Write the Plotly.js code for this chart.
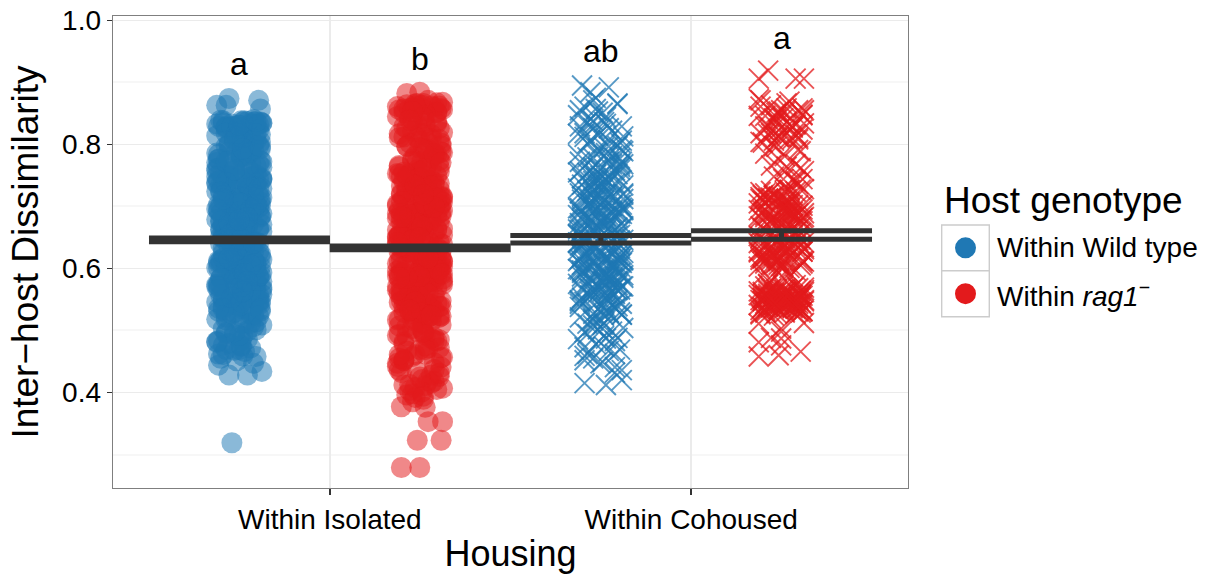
<!DOCTYPE html>
<html>
<head>
<meta charset="utf-8">
<script src="https://cdn.plot.ly/plotly-3.0.1.min.js"></script>
<style>
  html, body { margin: 0; padding: 0; background: #ffffff; }
  #chart { width: 1215px; height: 575px; }
</style>
</head>
<body>
<div id="chart"></div>
<script>
// Housing categories on the x axis and host genotype groups
const housing = ['Within Isolated', 'Within Cohoused'];
const genotypes = ['Within Wild type', 'Within <i>rag1</i><sup>\u2212</sup>'];

// Inter-host dissimilarity values, one array per housing x genotype group
const wtIsolated = [
  .652,.711,.583,.804,.497,.628,.739,.561,.690,.822,.614,.476,.668,.757,.539,.703,.641,.788,.592,.524,
  .677,.813,.605,.548,.726,.659,.833,.571,.694,.511,.746,.633,.782,.589,.718,.462,.664,.799,.553,.621,
  .735,.598,.687,.816,.529,.648,.771,.607,.697,.838,.566,.742,.486,.679,.613,.762,.544,.706,.827,.636,
  .574,.724,.655,.793,.517,.683,.601,.751,.628,.809,.558,.669,.731,.493,.644,.776,.587,.712,.535,.821,
  .662,.748,.596,.701,.469,.639,.786,.577,.728,.618,.835,.551,.673,.765,.506,.692,.627,.801,.569,.716,
  .609,.756,.541,.684,.829,.623,.737,.582,.667,.484,.714,.651,.795,.563,.699,.531,.744,.616,.818,.594,
  .689,.527,.661,.774,.603,.722,.546,.806,.637,.753,.579,.675,.499,.733,.626,.784,.556,.709,.645,.831,
  .584,.719,.673,.543,.797,.631,.761,.514,.682,.599,.743,.657,.826,.568,.695,.612,.769,.479,.706,.648,
  .725,.562,.812,.619,.686,.537,.758,.643,.591,.779,.671,.503,.727,.606,.836,.576,.698,.634,.789,.554,
  .663,.741,.589,.707,.522,.654,.814,.597,.736,.625,.772,.548,.691,.611,.802,.572,.718,.658,.491,.749,
  .455,.472,.451,.857,.863,.466,.863,.458,.319,.474,.434,.461,.428,.468,.447,.444,.871,.874,.459,.469,
  .839,.833,.826,.836,.828,.838,.482,.831,.833,.825,.834,.835,.837,.829,.840,.829,.832,.428,.836,.827,
  .701,.566,.788,.624,.735,.512,.679,.817,.593,.652,.744,.538,.708,.627,.792,.484,.663,.755,.579,.691,
  .613,.769,.547,.683,.826,.598,.724,.501,.646,.781,.569,.717,.633,.808,.524,.695,.587,.749,.657,.539,
  .754,.592,.698,.531,.661,.803,.574,.737,.614,.476,.729,.648,.785,.557,.672,.609,.823,.545,.714,.638,
  .584,.731,.622,.796,.553,.687,.518,.765,.641,.705,.593,.838,.666,.529,.747,.601,.688,.774,.562,.492,
  .676,.512,.745,.603,.818,.636,.571,.702,.527,.783,.659,.617,.736,.498,.694,.776,.548,.653,.811,.585,
  .639,.787,.577,.712,.495,.668,.748,.607,.829,.546,.688,.625,.761,.583,.719,.536,.798,.646,.563,.706,
  .557,.694,.818,.589,.739,.628,.481,.703,.658,.571,.763,.535,.682,.806,.612,.741,.523,.674,.598,.831,
  .723,.605,.664,.534,.772,.592,.696,.837,.553,.647,.509,.712,.579,.759,.641,.566,.728,.616,.793,.678
];
const ragIsolated = [
  .641,.778,.552,.703,.467,.619,.845,.586,.731,.502,.664,.812,.573,.689,.448,.627,.756,.531,.694,.598,
  .719,.487,.656,.798,.541,.673,.608,.852,.516,.742,.579,.633,.769,.461,.701,.589,.826,.557,.648,.735,
  .562,.688,.831,.603,.749,.475,.638,.784,.527,.667,.714,.451,.592,.858,.621,.545,.763,.683,.509,.806,
  .675,.536,.727,.614,.491,.792,.649,.568,.839,.707,.583,.659,.521,.746,.604,.817,.472,.698,.631,.757,
  .594,.816,.663,.456,.722,.547,.681,.605,.773,.512,.639,.851,.577,.709,.484,.652,.737,.563,.794,.617,
  .708,.579,.759,.523,.644,.834,.596,.686,.458,.728,.611,.549,.803,.667,.533,.752,.601,.843,.496,.672,
  .548,.697,.625,.788,.506,.739,.571,.662,.821,.589,.716,.478,.635,.781,.556,.694,.524,.753,.612,.469,
  .733,.602,.811,.539,.677,.462,.753,.618,.567,.848,.693,.529,.742,.585,.658,.494,.774,.626,.708,.557,
  .615,.764,.498,.684,.576,.829,.651,.544,.718,.606,.787,.453,.669,.593,.735,.518,.642,.802,.574,.691,
  .659,.515,.744,.629,.797,.561,.704,.483,.676,.615,.856,.538,.723,.652,.489,.766,.597,.681,.532,.818,
  .432,.415,.323,.323,.882,.376,.442,.405,.398,.421,.407,.412,.353,.392,.418,.436,.426,.403,.389,.884,
  .377,.862,.866,.858,.864,.855,.861,.867,.859,.863,.353,.857,.871,.865,.860,.856,.862,.858,.866,.279,
  .279,.428,.433,.441,.396,.411,.447,.851,.385,.401,.868,.452,.419,.408,.437,.455,.431,.413,.394,.425,
  .689,.542,.773,.618,.727,.493,.662,.834,.581,.706,.457,.645,.792,.566,.739,.612,.521,.684,.817,.598,
  .571,.742,.629,.509,.696,.847,.588,.664,.531,.758,.603,.712,.472,.651,.783,.559,.697,.626,.843,.544,
  .721,.596,.668,.802,.553,.637,.517,.749,.611,.692,.574,.829,.539,.678,.613,.764,.485,.656,.731,.583,
  .633,.809,.561,.715,.604,.469,.688,.597,.776,.528,.654,.741,.587,.862,.623,.507,.712,.556,.661,.794,
  .557,.679,.744,.592,.826,.526,.701,.634,.549,.772,.612,.481,.725,.666,.578,.811,.539,.687,.601,.746,
  .748,.614,.536,.691,.658,.761,.492,.629,.853,.571,.707,.594,.643,.518,.785,.653,.727,.567,.498,.672,
  .602,.733,.673,.548,.797,.617,.565,.713,.646,.529,.819,.682,.559,.734,.601,.461,.675,.839,.622,.587,
  .683,.524,.624,.771,.585,.704,.642,.837,.503,.668,.591,.755,.617,.546,.699,.585,.808,.533,.719,.649
];
const wtCohoused = [
  .652,.781,.534,.703,.462,.618,.847,.579,.726,.503,.668,.812,.587,.694,.441,.637,.759,.556,.709,.601,
  .735,.498,.661,.829,.571,.684,.612,.866,.527,.748,.589,.643,.772,.478,.716,.598,.803,.562,.657,.738,
  .566,.692,.853,.609,.754,.487,.641,.797,.519,.673,.721,.452,.604,.875,.626,.549,.768,.681,.512,.819,
  .679,.541,.731,.622,.494,.786,.655,.573,.838,.706,.585,.663,.528,.751,.607,.829,.469,.699,.634,.762,
  .597,.822,.667,.436,.725,.552,.686,.614,.778,.509,.646,.861,.581,.712,.483,.655,.741,.567,.795,.624,
  .711,.583,.763,.525,.648,.844,.599,.689,.455,.731,.613,.546,.807,.671,.536,.757,.603,.884,.491,.675,
  .553,.701,.628,.791,.511,.743,.575,.666,.826,.592,.719,.473,.638,.785,.559,.697,.529,.758,.615,.447,
  .895,.606,.815,.420,.681,.412,.755,.621,.566,.851,.696,.415,.892,.588,.662,.543,.777,.631,.711,.533,
  .619,.768,.502,.688,.578,.833,.654,.548,.722,.609,.789,.459,.672,.596,.737,.521,.645,.806,.577,.693,
  .684,.559,.742,.617,.802,.537,.663,.488,.713,.596,.768,.641,.529,.857,.603,.692,.566,.734,.474,.651,
  .587,.716,.634,.543,.779,.661,.817,.594,.508,.727,.625,.686,.558,.746,.432,.673,.612,.841,.579,.702,
  .745,.623,.572,.698,.648,.531,.729,.865,.611,.563,.694,.818,.467,.659,.586,.772,.637,.704,.544,.628,
  .606,.658,.793,.571,.716,.592,.642,.539,.763,.678,.504,.621,.739,.686,.569,.615,.702,.556,.836,.644,
  .662,.574,.728,.806,.619,.553,.697,.642,.871,.585,.734,.497,.676,.611,.758,.538,.689,.627,.781,.566,
  .716,.603,.547,.664,.835,.588,.629,.752,.516,.693,.571,.648,.797,.607,.462,.721,.654,.584,.739,.675,
  .593,.748,.681,.526,.703,.617,.784,.565,.658,.449,.712,.596,.826,.633,.685,.547,.764,.602,.668,.718,
  .639,.687,.561,.772,.602,.719,.486,.653,.741,.578,.813,.626,.567,.695,.639,.855,.592,.706,.524,.749
];
const ragCohoused = [
  .547,.683,.812,.556,.641,.538,.873,.702,.621,.559,.834,.612,.694,.548,.768,.533,.647,.818,.566,.709,
  .629,.541,.716,.848,.552,.677,.603,.791,.537,.656,.562,.829,.689,.528,.741,.618,.554,.863,.636,.698,
  .803,.568,.645,.531,.712,.592,.846,.551,.681,.624,.757,.543,.869,.609,.535,.723,.557,.654,.781,.498,
  .552,.691,.614,.824,.545,.667,.511,.736,.558,.842,.631,.529,.707,.596,.816,.549,.677,.488,.639,.855,
  .718,.536,.853,.627,.564,.695,.541,.808,.648,.572,.728,.555,.619,.839,.684,.526,.762,.606,.546,.671,
  .589,.827,.543,.701,.632,.866,.557,.653,.524,.744,.611,.686,.548,.796,.573,.715,.638,.537,.852,.476,
  .665,.553,.776,.608,.539,.858,.481,.689,.561,.823,.642,.532,.703,.617,.551,.871,.657,.581,.731,.544,
  .616,.742,.534,.681,.919,.549,.906,.811,.626,.542,.906,.694,.558,.836,.906,.651,.466,.567,.724,.604,
  .537,.664,.460,.847,.574,.709,.458,.559,.693,.633,.512,.785,.546,.672,.597,.861,.529,.714,.638,.552,
  .641,.548,.813,.695,.559,.712,.626,.531,.842,.604,.683,.557,.727,.638,.546,.804,.667,.552,.701,.619,
  .553,.829,.612,.541,.686,.764,.563,.645,.718,.535,.855,.608,.692,.554,.637,.528,.789,.673,.561,.716,
  .709,.538,.647,.858,.575,.628,.694,.543,.806,.661,.549,.721,.601,.566,.832,.682,.545,.624,.756,.503,
  .562,.687,.534,.627,.817,.559,.705,.651,.541,.697,.569,.846,.636,.678,.527,.614,.564,.725,.688,.812,
  .548,.671,.823,.612,.556,.704,.641,.537,.797,.566,.689,.619,.544,.851,.632,.712,.558,.678,.529,.637,
  .693,.557,.606,.744,.539,.836,.652,.568,.717,.601,.547,.683,.809,.562,.724,.649,.534,.766,.611,.556,
  .621,.809,.549,.676,.713,.563,.628,.855,.542,.698,.634,.571,.726,.536,.659,.818,.605,.551,.692,.487,
  .558,.702,.637,.531,.829,.615,.684,.549,.748,.653,.565,.706,.592,.844,.541,.668,.727,.613,.553,.674
];

// Group mean and standard error (wild type isolated, rag1 isolated, wild type cohoused, rag1 cohoused)
const groupMean = [0.646, 0.633, 0.647, 0.654];
const groupSE = [0.003, 0.003, 0.006, 0.0068];

// Significance letters and their heights
const letters = ['a', 'b', 'ab', 'a'];
const letterY = [0.909, 0.917, 0.929, 0.951];

// Horizontal jitter offsets (axis units), cycled across the points of a group
const jitter = [-.052, .031, -.008, .058, -.037, .014, -.063, .046, -.021, .005,
                 .062, -.045, .022, -.014, .039, -.058, .053, -.029, .009, -.001];

const BLUE = '#1f78b4';
const RED = '#e31a1c';
const FONT = 'Liberation Sans, Arial, Helvetica, sans-serif';
const DODGE = 0.25;

// centre of each group: housing position +/- dodge
const groupX = [1 - DODGE, 1 + DODGE, 2 - DODGE, 2 + DODGE];

function jitterX(values, centre) {
  return values.map((v, i) => centre + jitter[i % jitter.length]);
}

function circles(values, centre, color) {
  return {
    type: 'scatter', mode: 'markers',
    x: jitterX(values, centre), y: values,
    marker: { symbol: 'circle', size: 21, color: color, opacity: 0.52, line: { width: 0 } },
    hoverinfo: 'y', showlegend: false
  };
}

function crosses(values, centre, color) {
  return {
    type: 'scatter', mode: 'markers',
    x: jitterX(values, centre), y: values,
    marker: { symbol: 'x-thin', size: 20, color: color, opacity: 0.75,
              line: { width: 1.9, color: color } },
    hoverinfo: 'y', showlegend: false
  };
}

const traces = [
  circles(wtIsolated, groupX[0], BLUE),
  circles(ragIsolated, groupX[1], RED),
  crosses(wtCohoused, groupX[2], BLUE),
  crosses(ragCohoused, groupX[3], RED),
  {
    type: 'scatter', mode: 'markers',
    x: groupX, y: groupMean,
    marker: { size: 1, color: 'rgba(0,0,0,0)' },
    error_y: { type: 'data', array: groupSE, visible: true,
               color: '#333333', thickness: 5, width: 90.5 },
    hoverinfo: 'y', showlegend: false
  }
];

// plot area in pixels, used to place the hand-built legend
const M = { l: 113, r: 307, t: 16, b: 87 };
const W = 1215, H = 575;
const PW = W - M.l - M.r, PH = H - M.t - M.b;
const px = x => (x - M.l) / PW;
const py = y => (H - M.b - y) / PH;

const annotations = letters.map((t, i) => ({
  x: groupX[i], y: letterY[i], xref: 'x', yref: 'y',
  text: t, showarrow: false, xanchor: 'center', yanchor: 'bottom', yshift: -7,
  font: { family: FONT, size: 32, color: '#000000' }
}));

annotations.push({
  x: px(942), y: py(201), xref: 'paper', yref: 'paper',
  text: 'Host genotype', showarrow: false, xanchor: 'left', yanchor: 'middle',
  font: { family: FONT, size: 37, color: '#000000' }
});

const keyColors = [BLUE, RED];
const keyTop = [225, 270.7], keyBottom = [270.7, 316.7];
const shapes = [];
genotypes.forEach((g, i) => {
  shapes.push({
    type: 'rect', xref: 'paper', yref: 'paper',
    x0: px(941.7), x1: px(989.3), y0: py(keyBottom[i]), y1: py(keyTop[i]),
    line: { color: '#cccccc', width: 1.4 }, fillcolor: '#ffffff'
  });
  const cy = (keyTop[i] + keyBottom[i]) / 2;
  shapes.push({
    type: 'circle', xref: 'paper', yref: 'paper',
    xsizemode: 'pixel', ysizemode: 'pixel',
    xanchor: px(965.5), yanchor: py(cy),
    x0: -10.5, x1: 10.5, y0: -10.5, y1: 10.5,
    line: { width: 0 }, fillcolor: keyColors[i]
  });
  annotations.push({
    x: px(995), y: py(cy), xref: 'paper', yref: 'paper',
    text: g, showarrow: false, xanchor: 'left', yanchor: 'middle',
    font: { family: FONT, size: 28, color: '#000000' }
  });
});

const layout = {
  width: W, height: H,
  margin: M,
  paper_bgcolor: '#ffffff', plot_bgcolor: '#ffffff',
  font: { family: FONT, color: '#000000' },
  showlegend: false,
  xaxis: {
    range: [0.4, 2.6],
    tickmode: 'array', tickvals: [1, 2], ticktext: housing,
    showgrid: true, gridcolor: '#ebebeb', gridwidth: 1.4,
    zeroline: false,
    ticks: 'outside', ticklen: 6, tickwidth: 1.4, tickcolor: '#333333',
    showline: true, mirror: true, linecolor: '#7f7f7f', linewidth: 1.4,
    tickfont: { family: FONT, size: 28, color: '#000000' },
    title: { text: 'Housing', font: { family: FONT, size: 36, color: '#000000' }, standoff: 6 }
  },
  yaxis: {
    range: [0.246, 1.007],
    tickmode: 'array', tickvals: [0.4, 0.6, 0.8, 1.0], ticktext: ['0.4', '0.6', '0.8', '1.0'],
    showgrid: true, gridcolor: '#ebebeb', gridwidth: 1.4,
    minor: { tickvals: [0.3, 0.5, 0.7, 0.9], showgrid: true, gridcolor: '#f7f7f7', gridwidth: 2, ticks: '' },
    zeroline: false,
    ticks: 'outside', ticklen: 5, tickwidth: 1.4, tickcolor: '#333333',
    showline: true, mirror: true, linecolor: '#7f7f7f', linewidth: 1.4,
    tickfont: { family: FONT, size: 28, color: '#000000' },
    title: { text: 'Inter\u2212host Dissimilarity', font: { family: FONT, size: 37, color: '#000000' }, standoff: 12 }
  },
  annotations: annotations,
  shapes: shapes
};

Plotly.newPlot('chart', traces, layout, { staticPlot: true, displayModeBar: false });
</script>
</body>
</html>
